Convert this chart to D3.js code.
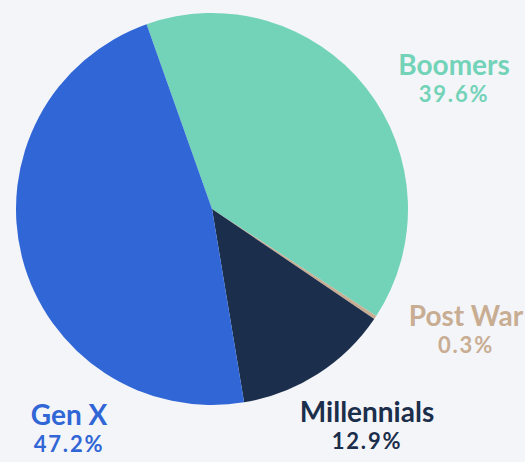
<!DOCTYPE html>
<html lang="en">
<head>
    <meta charset="UTF-8">
    <title>Generations</title>
    <script src="https://d3js.org/d3.v7.min.js"></script>
    <style>
        body{
            margin: 0;
            background: #f4f5f9;
        }
        svg text{
            font-family: Lato, sans-serif;
            font-weight: 700;
        }
    </style>
</head>
<body>
<svg width="525" height="462"></svg>
<script>
    // data
    const categories = ["Boomers", "Post War", "Millennials", "Gen X"];
    const shares = [39.6, 0.3, 12.9, 47.2];
    const shareLabels = ["39.6%", "0.3%", "12.9%", "47.2%"];
    const colors = ["#73d3b8", "#c8ad93", "#1b2e4b", "#3166d6"];

    // label anchor (centre x, name baseline) -- layout only
    const labelPos = [[454, 75], [466, 326], [367, 422], [69, 425]];

    const width = 525, height = 462;
    const cx = 212, cy = 209, radius = 196;
    const startAngle = -19.5 * Math.PI / 180;

    let svg = d3.select('svg');

    let pie = d3.pie()
        .sort(null)
        .value(d => d.value)
        .startAngle(startAngle)
        .endAngle(startAngle + 2 * Math.PI);

    let arc = d3.arc()
        .innerRadius(0)
        .outerRadius(radius);

    let data = categories.map((c, i) => ({name: c, value: shares[i], label: shareLabels[i], color: colors[i]}));

    let g = svg.append("g")
        .attr("transform", `translate(${cx},${cy})`);

    g.selectAll("path")
        .data(pie(data))
        .enter().append("path")
        .attr("d", arc)
        .attr("fill", d => d.data.color);

    let labels = svg.selectAll("g.label")
        .data(data)
        .enter().append("g")
        .attr("class", "label")
        .attr("transform", (d, i) => `translate(${labelPos[i][0]},${labelPos[i][1]})`);

    labels.append("text")
        .attr("text-anchor", "middle")
        .attr("font-size", "28px")
        .attr("fill", d => d.color)
        .text(d => d.name);

    labels.append("text")
        .attr("text-anchor", "middle")
        .attr("y", 27)
        .attr("font-size", "22px")
        .attr("letter-spacing", "1.8px")
        .attr("fill", d => d.color)
        .text(d => d.label);
</script>
</body>
</html>
